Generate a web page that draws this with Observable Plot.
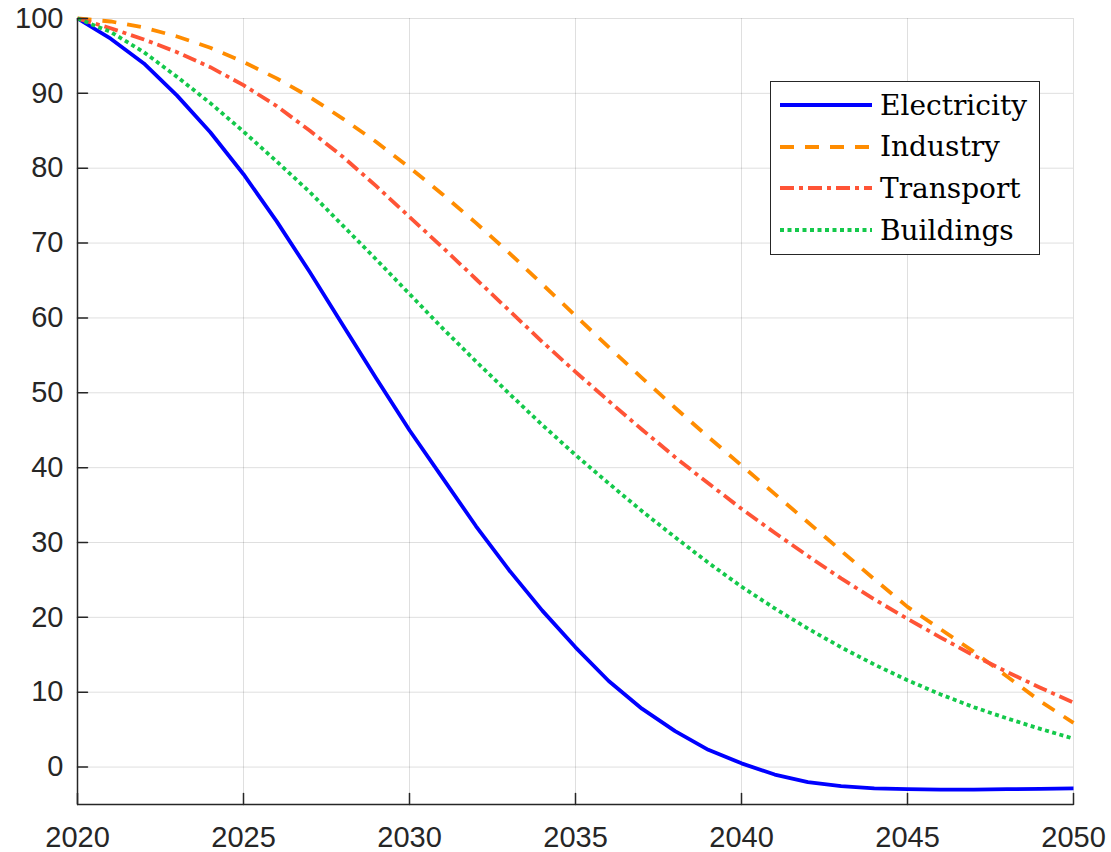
<!DOCTYPE html>
<html>
<head>
<meta charset="utf-8">
<script src="https://cdn.jsdelivr.net/npm/d3@7"></script>
<script src="https://cdn.jsdelivr.net/npm/@observablehq/plot@0.6"></script>
<style>
  html, body { margin: 0; padding: 0; background: #fff; }
  #wrap { position: relative; width: 1111px; height: 852px; }
  #legend {
    position: absolute; left: 770px; top: 81px; width: 268px; height: 172px;
    border: 1.5px solid #262626; background: #fff; box-sizing: content-box;
    font-family: "DejaVu Serif", "Liberation Serif", serif; font-size: 28px; color: #000;
  }
  .row { position: absolute; left: 0; height: 40px; display: flex; align-items: center; }
  .row svg { margin-left: 9px; margin-right: 8px; }
</style>
</head>
<body>
<div id="wrap"><div id="legend"></div></div>
<script>
const years = d3.range(2020, 2051);
const electricity = [100, 97.3, 94.0, 89.7, 84.8, 79.2, 72.9, 66.1, 59.0, 51.9, 45.0, 38.6, 32.2, 26.3, 20.9, 16.0, 11.5, 7.8, 4.8, 2.3, 0.5, -1.0, -2.0, -2.55, -2.85, -2.95, -3.0, -3.0, -2.95, -2.9, -2.85];
const industry = [100, 99.6, 98.8, 97.6, 96.1, 94.2, 92.0, 89.5, 86.6, 83.5, 80.1, 76.5, 72.7, 68.7, 64.5, 60.3, 56.1, 52.0, 48.0, 44.1, 40.3, 36.5, 32.7, 28.9, 25.1, 21.4, 18.4, 15.4, 12.1, 8.8, 5.9];
const transport = [100, 98.7, 97.2, 95.5, 93.5, 91.1, 88.3, 85.0, 81.5, 77.6, 73.5, 69.4, 65.2, 61.0, 56.8, 52.8, 48.9, 45.1, 41.4, 37.9, 34.5, 31.3, 28.2, 25.2, 22.4, 19.8, 17.3, 14.9, 12.7, 10.6, 8.6];
const buildings = [100, 98.2, 95.5, 92.2, 88.7, 84.9, 80.9, 76.8, 72.3, 67.8, 63.2, 58.6, 54.2, 49.9, 45.7, 41.7, 37.9, 34.2, 30.7, 27.3, 24.1, 21.2, 18.5, 16.0, 13.7, 11.6, 9.7, 8.0, 6.5, 5.1, 3.8];
const xTicks = [2020, 2025, 2030, 2035, 2040, 2045, 2050];
const yTicks = [0, 10, 20, 30, 40, 50, 60, 70, 80, 90, 100];

const seriesDefs = [
  {name: "Electricity", values: electricity, color: "#0000ff", dash: null},
  {name: "Industry", values: industry, color: "#ff8c00", dash: "14,11"},
  {name: "Transport", values: transport, color: "#ff5436", dash: "14,5,4,5"},
  {name: "Buildings", values: buildings, color: "#14c94b", dash: "4,3.5"}
];

const axisColor = "#262626";
const tickShape = {draw(ctx, l) { ctx.moveTo(0, 0); ctx.lineTo(0, -l); }};

const lineMarks = seriesDefs.map(s =>
  Plot.line(years.map((y, i) => ({year: y, value: s.values[i]})), {
    x: "year", y: "value", stroke: s.color, strokeWidth: 3.8,
    strokeDasharray: s.dash, strokeLinejoin: "round", strokeLinecap: "butt"
  })
);

const chart = Plot.plot({
  width: 1111, height: 852,
  marginLeft: 77, marginRight: 38, marginTop: 18, marginBottom: 48,
  style: {fontFamily: "'Liberation Sans', Arial, Helvetica, sans-serif", fontSize: "29px", color: axisColor, background: "#fff"},
  x: {domain: [2020, 2050], ticks: xTicks, tickFormat: d => String(d), label: null},
  y: {domain: [-5, 100], ticks: yTicks, label: null},
  marks: [
    Plot.gridX(xTicks, {stroke: axisColor, strokeOpacity: 0.15, strokeWidth: 1}),
    Plot.gridY(yTicks, {stroke: axisColor, strokeOpacity: 0.15, strokeWidth: 1}),
    ...lineMarks,
    Plot.ruleX([2020], {y1: -5, y2: 100, stroke: axisColor, strokeWidth: 1.5}),
    Plot.ruleY([-5], {x1: 2020, x2: 2050, stroke: axisColor, strokeWidth: 1.5}),
    Plot.vector(xTicks, {x: d => d, y: -5, length: 11, rotate: 0, anchor: "start", shape: tickShape, stroke: axisColor, strokeWidth: 1.5}),
    Plot.vector(yTicks, {x: 2020, y: d => d, length: 10, rotate: 90, anchor: "start", shape: tickShape, stroke: axisColor, strokeWidth: 1.5}),
    Plot.axisX(xTicks, {tickSize: 0, tickPadding: 22, fill: axisColor, fontSize: 29, label: null, tickFormat: d => String(d)}),
    Plot.axisY(yTicks, {tickSize: 0, tickPadding: 14, fill: axisColor, fontSize: 29, label: null})
  ]
});
document.getElementById("wrap").prepend(chart);

const legend = document.getElementById("legend");
seriesDefs.forEach((s, i) => {
  const row = document.createElement("div");
  row.className = "row";
  row.style.top = (3 + i * 41.7) + "px";
  const svg = d3.create("svg").attr("width", 92).attr("height", 10);
  svg.append("line").attr("x1", 0).attr("x2", 92).attr("y1", 5).attr("y2", 5)
    .attr("stroke", s.color).attr("stroke-width", 3.8)
    .attr("stroke-dasharray", s.dash);
  row.appendChild(svg.node());
  const t = document.createElement("span");
  t.textContent = s.name;
  row.appendChild(t);
  legend.appendChild(row);
});
</script>
</body>
</html>
